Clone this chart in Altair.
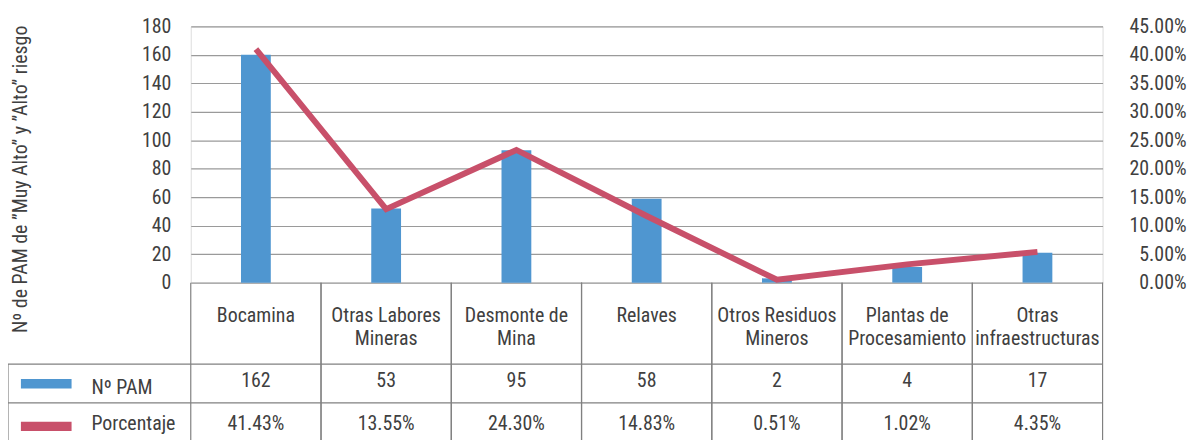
import altair as alt
import pandas as pd

# ---- data ----
categories = ["Bocamina", "Otras Labores\nMineras", "Desmonte de\nMina", "Relaves",
              "Otros Residuos\nMineros", "Plantas de\nProcesamiento", "Otras\ninfraestructuras"]
pam_drawn = [160, 52, 93, 59, 3, 11, 21]                 # bar heights as drawn
pct_drawn = [0.410, 0.129, 0.233, 0.117, 0.005, 0.032, 0.054]  # line as drawn
pam_table = ["162", "53", "95", "58", "2", "4", "17"]
pct_table = ["41.43%", "13.55%", "24.30%", "14.83%", "0.51%", "1.02%", "4.35%"]
series_names = ["Nº PAM", "Porcentaje"]
y_title = "Nº de PAM de \u201dMuy Alto\u201d y \u201dAlto\u201d riesgo"
left_ticks = list(range(0, 181, 20))
right_ticks = [i * 0.05 for i in range(10)]

BLUE = "#4F96D0"
RED = "#C8506A"
TXT = "#404040"
GRID = "#9a9a9a"
BORDER = "#808080"
FONT = "Liberation Sans Narrow, Arial Narrow, Roboto Condensed, sans-serif"
FS = 20

df = pd.DataFrame({"cat": categories, "pam": pam_drawn, "pct": pct_drawn,
                   "pam_t": pam_table, "pct_t": pct_table})
one = pd.DataFrame({"k": [0]})

xenc = alt.X("cat:N", sort=categories, axis=None,
             scale=alt.Scale(paddingInner=0, paddingOuter=0))

bars = alt.Chart(df).mark_bar(size=30, color=BLUE).encode(
    x=xenc,
    y=alt.Y("pam:Q", scale=alt.Scale(domain=[0, 180]),
            axis=alt.Axis(orient="left", values=left_ticks, grid=True, gridColor=GRID,
                          gridWidth=1.2, domain=False, ticks=False, tickSize=0,
                          labelPadding=20, title=None, labelFontSize=FS,
                          labelColor=TXT, labelFont=FONT)),
)

line = alt.Chart(df).mark_line(color=RED, strokeWidth=6).encode(
    x=xenc,
    y=alt.Y("pct:Q", scale=alt.Scale(domain=[0, 0.45]),
            axis=alt.Axis(orient="right", values=right_ticks, format=".2%", grid=False,
                          domain=False, ticks=False, tickSize=0, labelAlign="right",
                          labelPadding=84, title=None, labelFontSize=FS,
                          labelColor=TXT, labelFont=FONT)),
)

cat_text = alt.Chart(df).mark_text(baseline="alphabetic", fontSize=FS, color=TXT,
                                   lineBreak="\n", lineHeight=23, font=FONT).encode(
    x=xenc, y=alt.value(298), text="cat:N")

pam_text = alt.Chart(df).mark_text(baseline="alphabetic", fontSize=FS, color=TXT, font=FONT).encode(
    x=xenc, y=alt.value(363), text="pam_t:N")
pct_text = alt.Chart(df).mark_text(baseline="alphabetic", fontSize=FS, color=TXT, font=FONT).encode(
    x=xenc, y=alt.value(406), text="pct_t:N")

vlines0 = alt.Chart(df).mark_rule(color=BORDER, strokeWidth=1.2).encode(
    x=alt.X("cat:N", sort=categories, axis=None, bandPosition=0,
            scale=alt.Scale(paddingInner=0, paddingOuter=0)),
    y=alt.value(258), y2=alt.value(440))
vlines1 = alt.Chart(df).mark_rule(color=BORDER, strokeWidth=1.2).encode(
    x=alt.X("cat:N", sort=categories, axis=None, bandPosition=1,
            scale=alt.Scale(paddingInner=0, paddingOuter=0)),
    y=alt.value(258), y2=alt.value(440))

hline1 = alt.Chart(one).mark_rule(color=BORDER, strokeWidth=1.2).encode(
    x=alt.value(-184), x2=alt.value(918), y=alt.value(340))
hline2 = alt.Chart(one).mark_rule(color=BORDER, strokeWidth=1.2).encode(
    x=alt.value(-184), x2=alt.value(918), y=alt.value(379))
hline3 = alt.Chart(one).mark_rule(color=BORDER, strokeWidth=1.2).encode(
    x=alt.value(-184), x2=alt.value(918), y=alt.value(418))
hdr_left = alt.Chart(one).mark_rule(color=BORDER, strokeWidth=1.2).encode(
    x=alt.value(-184), y=alt.value(340), y2=alt.value(418))

sw_blue = alt.Chart(one).mark_rect(color=BLUE).encode(
    x=alt.value(-171), x2=alt.value(-120), y=alt.value(355), y2=alt.value(364.5))
sw_red = alt.Chart(one).mark_rect(color=RED).encode(
    x=alt.value(-171), x2=alt.value(-120), y=alt.value(398), y2=alt.value(407.5))

lg1 = alt.Chart(one).mark_text(align="left", baseline="alphabetic", fontSize=FS,
                               color=TXT, font=FONT).encode(
    x=alt.value(-100), y=alt.value(370), text=alt.value(series_names[0]))
lg2 = alt.Chart(one).mark_text(align="left", baseline="alphabetic", fontSize=FS,
                               color=TXT, font=FONT).encode(
    x=alt.value(-100), y=alt.value(406), text=alt.value(series_names[1]))

ytitle = alt.Chart(one).mark_text(angle=270, align="center", baseline="alphabetic",
                                  fontSize=FS, color=TXT, font=FONT).encode(
    x=alt.value(-165), y=alt.value(154), text=alt.value(y_title))

chart = alt.layer(
    bars, line, vlines0, vlines1, hline1, hline2, hline3, hdr_left,
    cat_text, pam_text, pct_text, sw_blue, sw_red, lg1, lg2, ytitle
).resolve_scale(y="independent").properties(
    width=918, height=258,
    padding={"left": 184, "top": 17, "right": 86, "bottom": 165},
    autosize=alt.AutoSizeParams(type="none"),
).configure_view(stroke=None).configure(font=FONT, background="white")

chart.save("out.html", embed_options={"renderer": "svg", "actions": False})
